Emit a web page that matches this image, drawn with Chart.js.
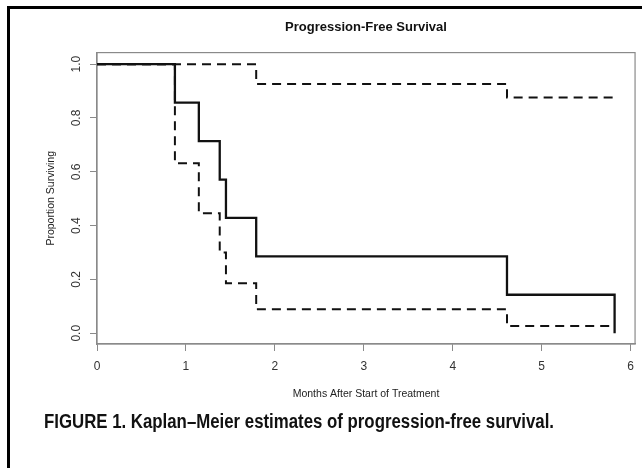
<!DOCTYPE html>
<html>
<head>
<meta charset="utf-8">
<script src="https://cdn.jsdelivr.net/npm/chart.js@4.4.1/dist/chart.umd.min.js"></script>
<style>
  html, body { margin: 0; padding: 0; background: #fff; overflow: hidden; }
  #marco {
    position: absolute; left: 7px; top: 6px; width: 700px; height: 520px;
    border-left: 3px solid #000; border-top: 3px solid #000;
  }
  #contenedor { position: absolute; left: 0; top: 0; width: 642px; height: 468px; }
  #leyenda {
    position: absolute; left: 44px; top: 410px; line-height: 23px;
    font-family: "Liberation Sans Narrow", "Liberation Sans", Arial, sans-serif;
    font-weight: bold; font-size: 20px; color: #111; white-space: nowrap;
    transform-origin: left center;
  }
</style>
</head>
<body>
<div id="marco"></div>
<div id="contenedor"><canvas id="graficoSupervivencia" width="642" height="468"></canvas></div>
<div id="leyenda">FIGURE 1. Kaplan–Meier estimates of progression-free survival.</div>
<script>
// Datos (meses, proporción)
const tiempos = [0, 0.876, 1.145, 1.38, 1.45, 1.79, 4.61, 5.82];
const supervivencia = [1, 0.857, 0.714, 0.571, 0.429, 0.286, 0.143, 0];
const limiteSuperior = [1, 1, 1, 1, 1, 0.926, 0.876, 0.876];
const limiteInferior = [1, 0.632, 0.446, 0.3, 0.186, 0.089, 0.027, 0.027];

const ticksX = [0, 1, 2, 3, 4, 5, 6];
const ticksY = [0, 0.2, 0.4, 0.6, 0.8, 1.0];
const etiquetasY = ["0.0", "0.2", "0.4", "0.6", "0.8", "1.0"];

const fuente = '"Liberation Sans", Arial, sans-serif';
const colorCaja = "#8a8a8a";

function puntos(valores) {
  return tiempos.map((t, i) => ({ x: t, y: valores[i] }));
}

// Caja alrededor del área del gráfico (estilo R)
const marcoArea = {
  id: "marcoArea",
  beforeDatasetsDraw(chart) {
    const { ctx, chartArea: a } = chart;
    ctx.save();
    ctx.strokeStyle = colorCaja;
    ctx.lineWidth = 1.2;
    ctx.strokeRect(a.left, a.top, a.right - a.left, a.bottom - a.top);
    ctx.restore();
  },
};

// Etiquetas del eje Y giradas 90 grados
const etiquetasRotadas = {
  id: "etiquetasRotadas",
  afterDraw(chart) {
    const { ctx } = chart;
    const y = chart.scales.y;
    ctx.save();
    ctx.fillStyle = "#333";
    ctx.font = "12px " + fuente;
    ctx.textAlign = "center";
    ctx.textBaseline = "middle";
    ticksY.forEach((v, i) => {
      ctx.save();
      ctx.translate(77, y.getPixelForValue(v));
      ctx.rotate(-Math.PI / 2);
      ctx.fillText(etiquetasY[i], 0, 0);
      ctx.restore();
    });
    ctx.restore();
  },
};

function crearGrafico() {
  const ctx = document.getElementById("graficoSupervivencia").getContext("2d");
  new Chart(ctx, {
    type: "line",
    data: {
      datasets: [
        {
          label: "Límite superior",
          data: puntos(limiteSuperior),
          borderColor: "#111",
          borderWidth: 2,
          borderDash: [9, 6],
          stepped: "before",
          pointRadius: 0,
          fill: false,
        },
        {
          label: "Límite inferior",
          data: puntos(limiteInferior),
          borderColor: "#111",
          borderWidth: 2,
          borderDash: [9, 6],
          stepped: "before",
          pointRadius: 0,
          fill: false,
        },
        {
          label: "Kaplan–Meier",
          data: puntos(supervivencia),
          borderColor: "#111",
          borderWidth: 2.3,
          stepped: "before",
          pointRadius: 0,
          fill: false,
        },
      ],
    },
    options: {
      responsive: false,
      animation: false,
      layout: { padding: { left: 0, right: 5, top: 0, bottom: 68 } },
      plugins: {
        legend: { display: false },
        tooltip: { enabled: false },
        title: {
          display: true,
          text: "Progression-Free Survival",
          fullSize: false,
          color: "#111",
          font: { family: fuente, size: 13, weight: "bold" },
          padding: { top: 20, bottom: 17 },
        },
      },
      scales: {
        x: {
          type: "linear",
          min: 0,
          max: 6.05,
          afterBuildTicks: (s) => {
            s.ticks = ticksX.map((v) => ({ value: v }));
          },
          afterFit: (s) => {
            s.height = 56;
          },
          ticks: {
            color: "#333",
            font: { family: fuente, size: 12 },
            padding: 8,
            maxRotation: 0,
            callback: (v) => String(v),
          },
          grid: { drawOnChartArea: false, tickLength: 7, color: colorCaja },
          border: { color: colorCaja, width: 1.2 },
          title: {
            display: true,
            text: "Months After Start of Treatment",
            color: "#222",
            font: { family: fuente, size: 10.5 },
            padding: 0,
          },
        },
        y: {
          type: "linear",
          min: -0.04,
          max: 1.043,
          afterBuildTicks: (s) => {
            s.ticks = ticksY.map((v) => ({ value: v }));
          },
          afterFit: (s) => {
            s.width = 97;
          },
          ticks: { display: false },
          grid: { drawOnChartArea: false, tickLength: 7, color: colorCaja },
          border: { color: colorCaja, width: 1.2 },
          title: {
            display: true,
            text: "Proportion Surviving",
            color: "#222",
            font: { family: fuente, size: 10.5 },
            padding: { top: 45, bottom: 0 },
          },
        },
      },
    },
    plugins: [marcoArea, etiquetasRotadas],
  });
}

// Ajustar el ancho del pie de figura
const leyenda = document.getElementById("leyenda");
const anchoLeyenda = leyenda.getBoundingClientRect().width;
leyenda.style.transform = "scaleX(" + (510 / anchoLeyenda) + ")";

crearGrafico();
</script>
</body>
</html>
